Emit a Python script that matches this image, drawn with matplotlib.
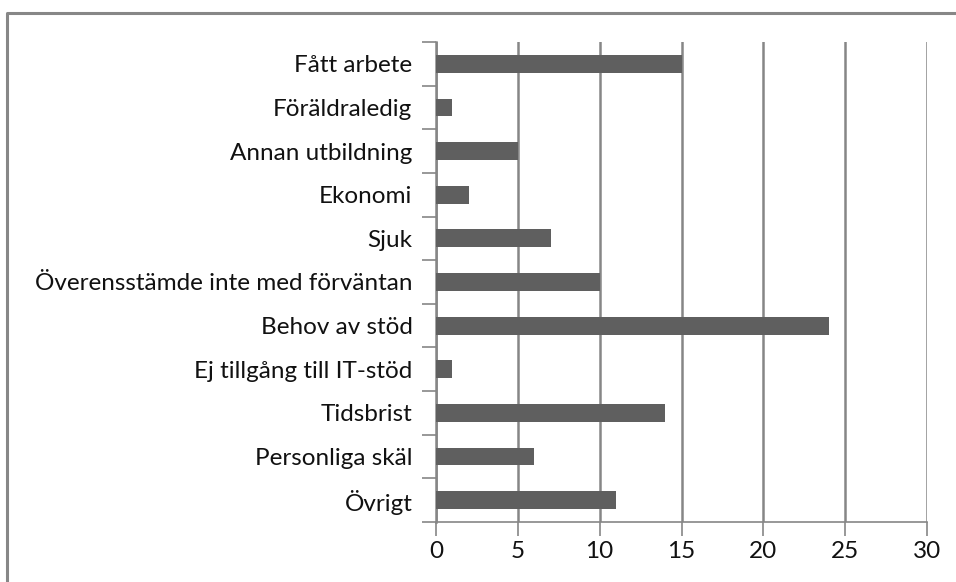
import matplotlib
matplotlib.use("Agg")
import matplotlib.pyplot as plt
from matplotlib.lines import Line2D

categories = ["Fått arbete", "Föräldraledig", "Annan utbildning", "Ekonomi", "Sjuk",
              "Överensstämde inte med förväntan", "Behov av stöd", "Ej tillgång till IT-stöd",
              "Tidsbrist", "Personliga skäl", "Övrigt"]
values = [15, 1, 5, 2, 7, 10, 24, 1, 14, 6, 11]
xticks = [0, 5, 10, 15, 20, 25, 30]

plt.rcParams['font.family'] = ['Lato', 'DejaVu Sans']
barColor = "#5f5f5f"
gridColor = "#868686"

fig = plt.figure(figsize=(9.56, 5.82), dpi=100)
fig.patch.set_facecolor("white")
ax = fig.add_axes([436/956, 1-522/582, (927-436)/956, (522-42)/582])

ypos = list(range(len(categories)))[::-1]
ax.barh(ypos, values, height=0.41, color=barColor, zorder=3)
ax.set_ylim(-0.5, len(categories)-0.5)
ax.set_xlim(0, 30)
ax.set_xticks(xticks)
ax.set_yticks(ypos)
ax.set_yticklabels(categories, fontsize=17.5, color="#111111")
ax.set_xticklabels([str(x) for x in xticks], fontsize=17.5, color="#111111")
# category boundary ticks
ax.set_yticks([y - 0.5 for y in range(len(categories) + 1)], minor=True)
ax.tick_params(axis='y', which='major', length=0, pad=17)
ax.tick_params(axis='y', which='minor', length=10, color=gridColor, width=1.2)
ax.tick_params(axis='x', length=10, color=gridColor, width=1.2, pad=4)
ax.grid(axis='x', color=gridColor, linewidth=1.8, zorder=0)
for s in ["top", "right"]:
    ax.spines[s].set_visible(False)
ax.spines["left"].set_color(gridColor)
ax.spines["left"].set_linewidth(1.8)
ax.spines["bottom"].set_color(gridColor)
ax.spines["bottom"].set_linewidth(1.2)

# outer chart frame (top and left)
fig.add_artist(Line2D([7/956, 7/956, 1.0], [0.0, 1-13/582, 1-13/582],
                      transform=fig.transFigure, color="#878787", linewidth=2.2))

plt.savefig("out.png", dpi=100)
